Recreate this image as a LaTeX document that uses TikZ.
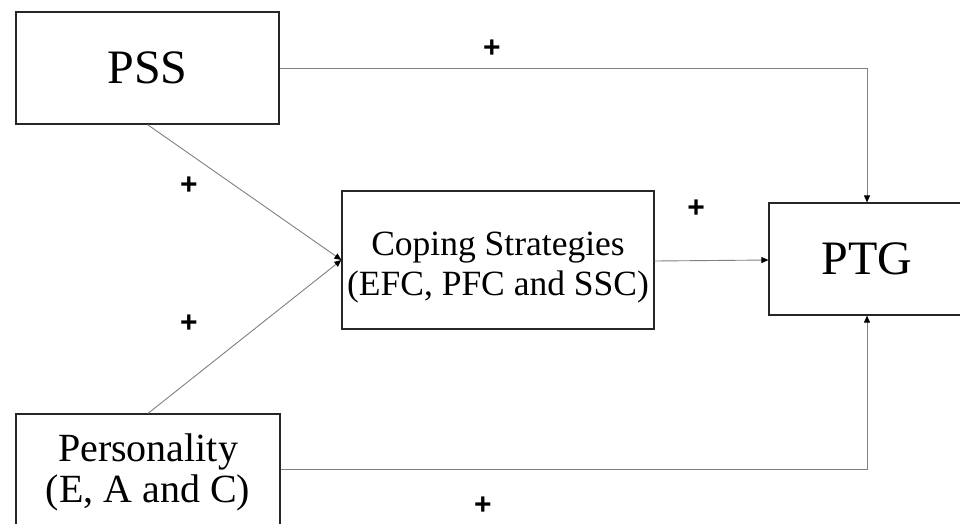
\documentclass[tikz,border=0pt]{standalone}
\usepackage{fontspec}
\setmainfont{Liberation Serif}
\newfontfamily\plusfont{Liberation Sans}
\usetikzlibrary{arrows.meta}
\tikzset{
  box/.style={draw=black!85, line width=1.2pt, fill=white, inner sep=0pt, align=center},
  conn/.style={draw=black!50, line width=0.9pt, -{Triangle[length=7pt,width=6pt,fill=black,color=black]}},
  plus/.style={font=\plusfont\bfseries\fontsize{30}{30}\selectfont, inner sep=0pt}
}
\begin{document}
\begin{tikzpicture}[x=1pt,y=-1pt]
\useasboundingbox (0,0) rectangle (960,523);
\clip (0,0) rectangle (960,523);
\node[box, minimum width=263pt, minimum height=112pt, font=\fontsize{48}{55}\selectfont] (pss) at (147.5,68) {PSS};
\node[box, minimum width=312pt, minimum height=138pt, font=\fontsize{35.5}{40}\selectfont] (cop) at (498,260) {\raisebox{-7pt}[\height][\depth]{\begin{tabular}{@{}c@{}}Coping Strategies\\(EFC, PFC and SSC)\end{tabular}}};
\node[box, minimum width=196pt, minimum height=112pt, font=\fontsize{48}{55}\selectfont] (ptg) at (867,259) {PTG};
\node[box, minimum width=264pt, minimum height=116pt, font=\fontsize{40}{41}\selectfont] (per) at (148,472) {Personality\\(E, A and C)};
\draw[conn] (pss.east) -| (ptg.north);
\draw[conn] (pss.south) -- (cop.west);
\draw[conn] (per.north) -- (cop.west);
\draw[conn] ([yshift=-1pt]cop.east) -- ([yshift=-1pt]ptg.west);
\draw[conn] ([yshift=3pt]per.east) -| (ptg.south);
\node[plus] (p1) at (492,49) {+};
\node[plus] (p2) at (189,186) {+};
\node[plus] (p3) at (189,324) {+};
\node[plus] (p4) at (696,209) {+};
\node[plus] (p5) at (483,506) {+};
\end{tikzpicture}
\end{document}
